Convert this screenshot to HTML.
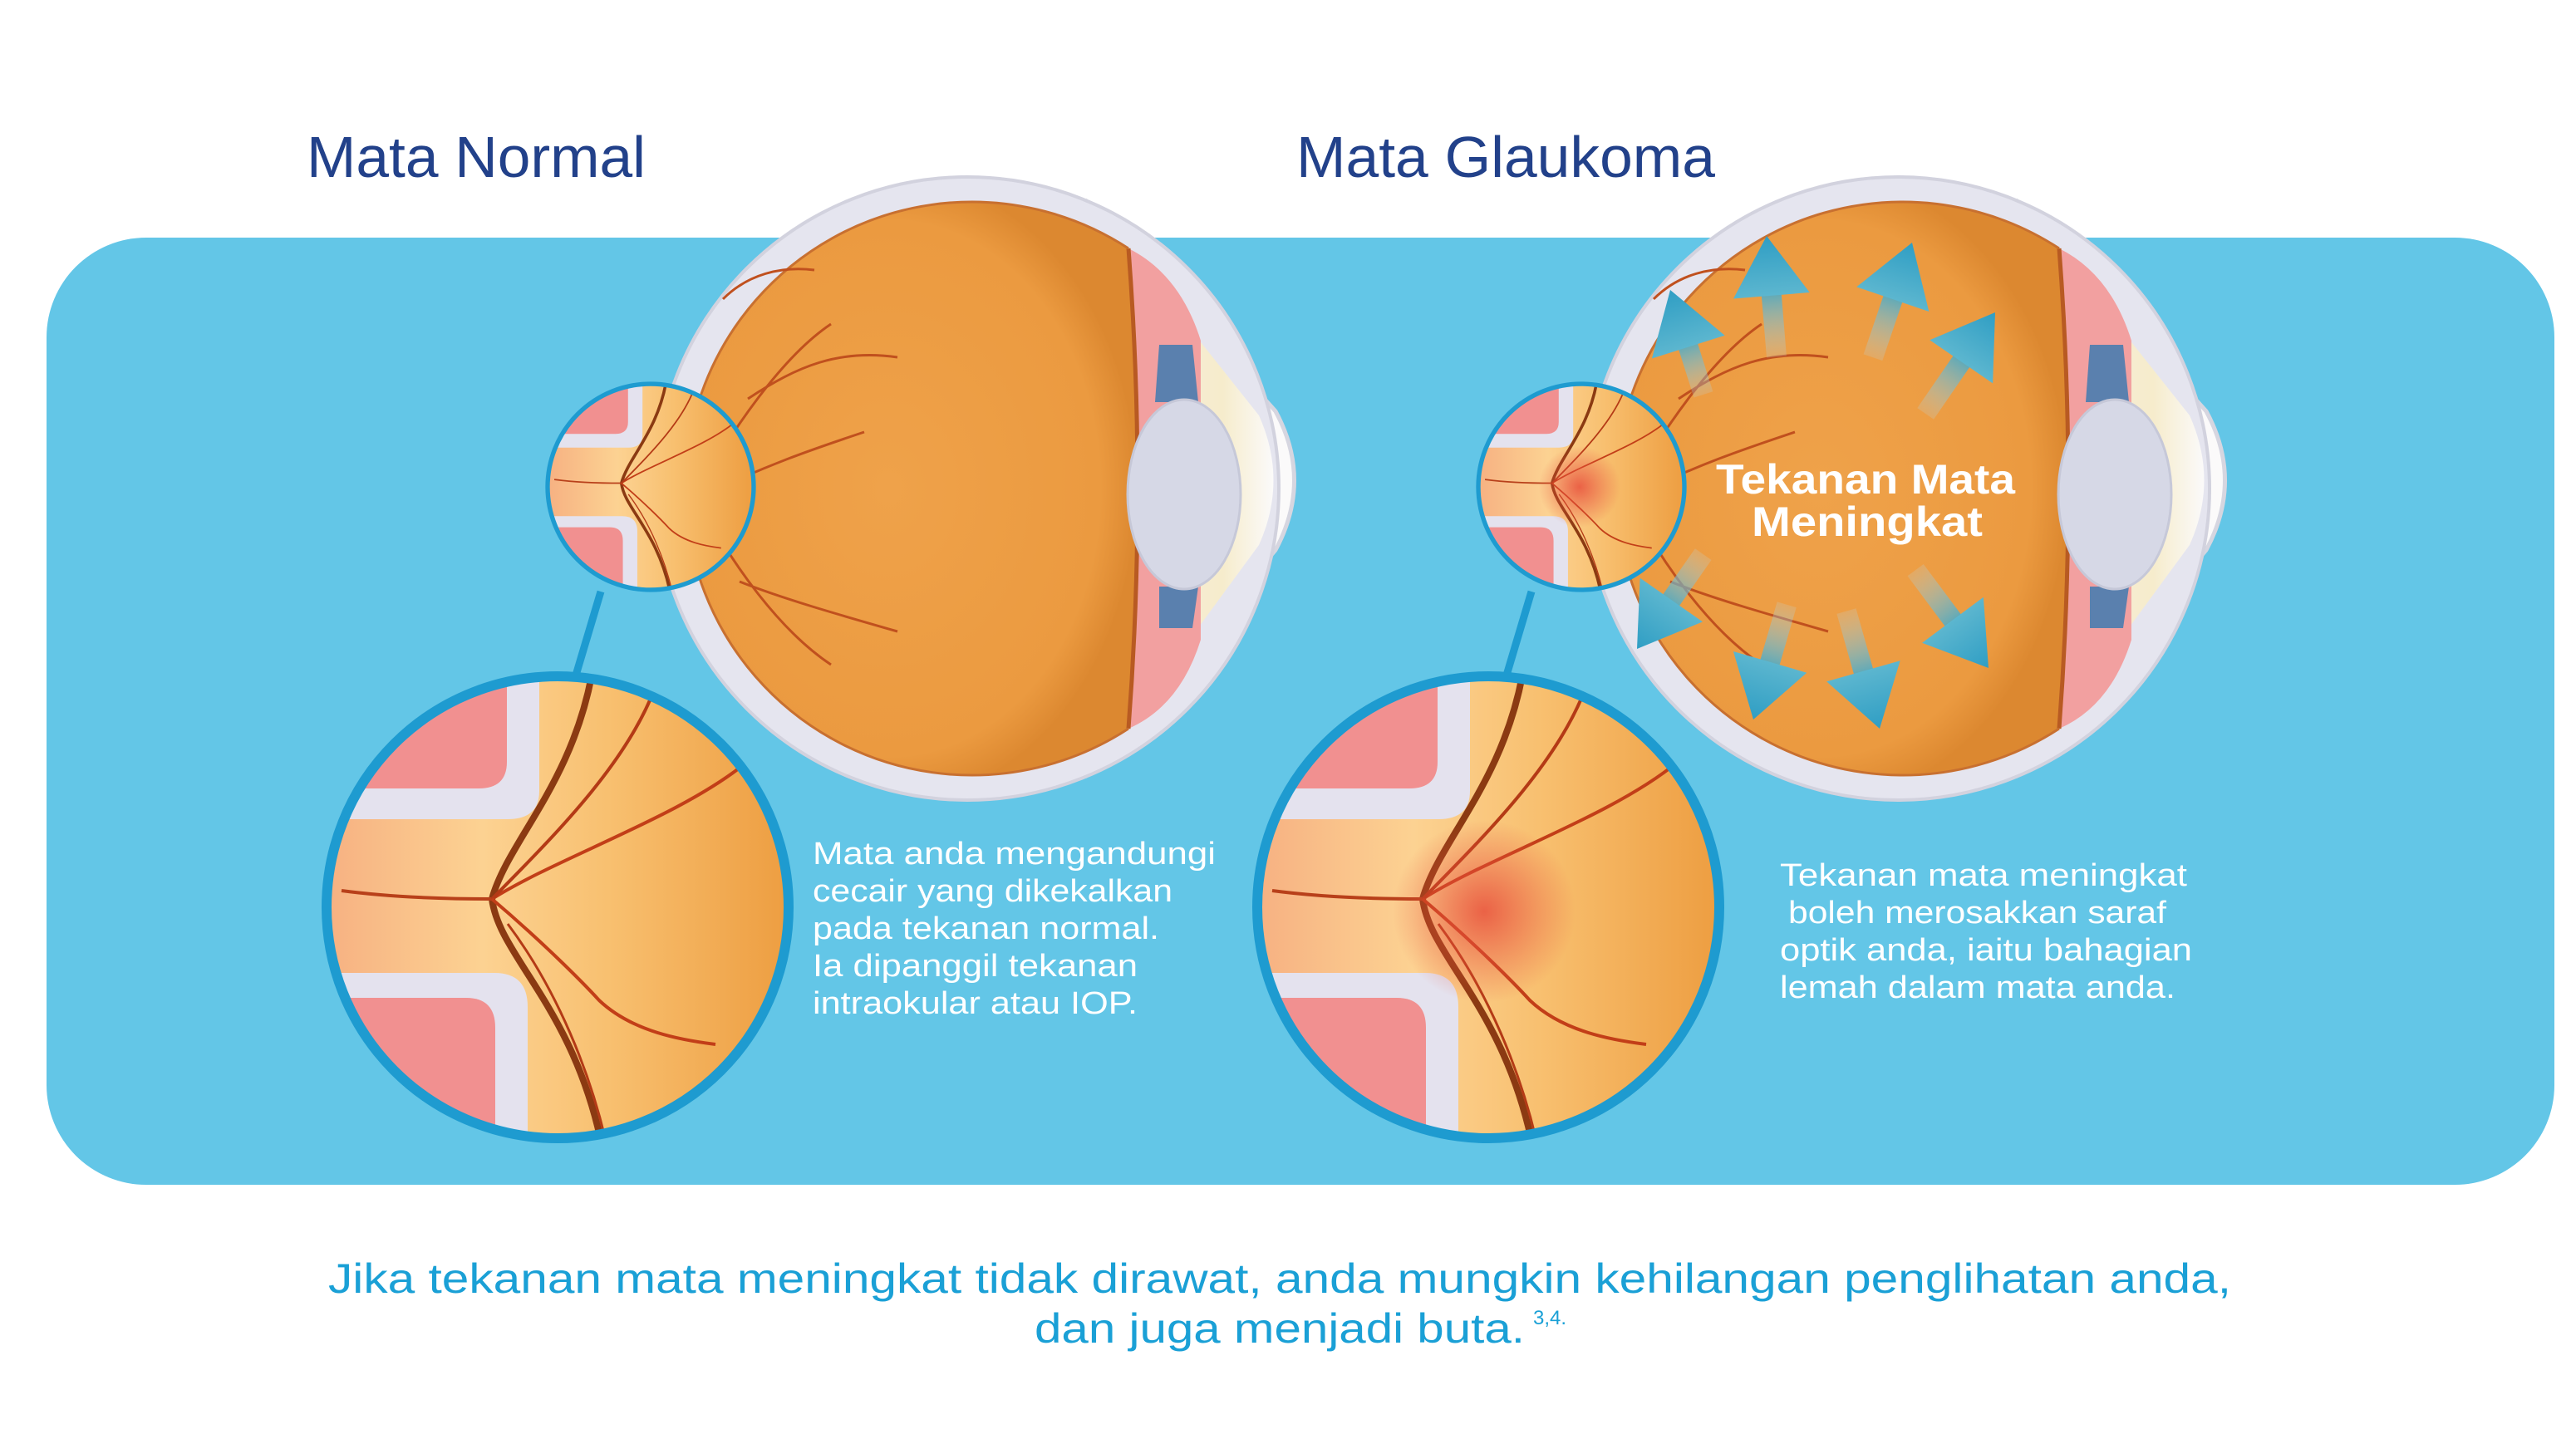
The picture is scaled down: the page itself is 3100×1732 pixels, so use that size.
<!DOCTYPE html>
<html><head><meta charset="utf-8"><style>html,body{margin:0;padding:0;background:#fff}svg{display:block}</style></head>
<body>
<svg width="3100" height="1732" viewBox="0 0 3100 1732" xmlns="http://www.w3.org/2000/svg" font-family="Liberation Sans, sans-serif">
<defs>
<radialGradient id="org" cx="0.45" cy="0.5" r="0.55">
<stop offset="0" stop-color="#efa24a"/><stop offset="0.85" stop-color="#eb9a40"/><stop offset="1" stop-color="#dc8830"/>
</radialGradient>
<linearGradient id="nerve" x1="0" y1="0" x2="1" y2="0">
<stop offset="0" stop-color="#f6ad80"/><stop offset="0.35" stop-color="#fcd292"/><stop offset="0.6" stop-color="#f8c070"/><stop offset="1" stop-color="#ec9a3c"/>
</linearGradient>
<radialGradient id="glow" cx="0.5" cy="0.5" r="0.5">
<stop offset="0" stop-color="#e8503c" stop-opacity="0.85"/><stop offset="1" stop-color="#e8503c" stop-opacity="0"/>
</radialGradient>
<linearGradient id="shaft" x1="0" y1="0" x2="0" y2="1">
<stop offset="0" stop-color="#3aa6c8" stop-opacity="0.95"/><stop offset="1" stop-color="#bcd8e0" stop-opacity="0.2"/>
</linearGradient>
<linearGradient id="head" x1="0" y1="0" x2="0" y2="1">
<stop offset="0" stop-color="#2f9ec4"/><stop offset="1" stop-color="#5cb6cf"/>
</linearGradient>
<linearGradient id="cor" x1="0" y1="0" x2="1" y2="0">
<stop offset="0" stop-color="#f4ecd8"/><stop offset="0.6" stop-color="#f6eccc"/><stop offset="1" stop-color="#fbfafa"/>
</linearGradient>
<clipPath id="bigc"><circle cx="0" cy="0" r="278"/></clipPath>
<g id="fundus">
<g clip-path="url(#bigc)">
<rect x="-300" y="-300" width="600" height="600" fill="url(#nerve)"/>
<path d="M-300,-300 H-22 V-140 Q-22,-106 -60,-106 H-300 Z" fill="#e4e2ee"/>
<path d="M-300,-300 H-61 V-175 Q-61,-143 -95,-143 H-300 Z" fill="#f19090"/>
<path d="M-300,300 H-36 V120 Q-36,79 -76,79 H-300 Z" fill="#e4e2ee"/>
<path d="M-300,300 H-75 V145 Q-75,109 -110,109 H-300 Z" fill="#f19090"/>
<path d="M43,-290 C20,-150 -60,-80 -79,-10 C-70,60 20,120 54,290" fill="none" stroke="#8b3a12" stroke-width="8"/>
<path d="M-260,-20 C-200,-12 -140,-10 -79,-10" fill="none" stroke="#b8401a" stroke-width="4"/>
<path d="M-79,-10 C0,-60 150,-110 228,-175" fill="none" stroke="#c23e18" stroke-width="4"/>
<path d="M-79,-10 C0,-90 90,-180 121,-275" fill="none" stroke="#b43a16" stroke-width="4"/>
<path d="M-79,-10 C-20,40 30,90 50,112 C90,150 150,160 190,165" fill="none" stroke="#c23e18" stroke-width="4"/>
<path d="M-60,20 C0,100 40,200 60,290" fill="none" stroke="#b43a16" stroke-width="3"/>
</g>
<circle cx="0" cy="0" r="278" fill="none" stroke="#1e9bd0" stroke-width="12"/>
</g>
<g id="eye">
<path d="M2430,245 L2655,495 Q2700,578 2655,662 L2430,930 Z" fill="#fbfafa" stroke="#d6d6e0" stroke-width="5"/>
<circle cx="2284" cy="588" r="375" fill="#e5e5ef" stroke="#d2d2de" stroke-width="4"/>
<path d="M2500,330 L2635,500 Q2670,578 2635,656 L2500,840 Z" fill="url(#cor)"/>
<path d="M2478,299 Q2540,330 2565,410 L2565,770 Q2540,850 2478,877 Q2500,588 2478,299 Z" fill="#f2a0a0"/>
<path d="M2478,299 A345,345 0 1 0 2478,877 Q2500,588 2478,299 Z" fill="url(#org)"/>
<path d="M2478,299 Q2500,588 2478,877" fill="none" stroke="#b85a22" stroke-width="5"/>
<path d="M2478,299 A345,345 0 1 0 2478,877" fill="none" stroke="#c87030" stroke-width="3"/>
<path d="M2515,415 L2555,415 L2562,484 L2510,484 Z" fill="#5a80ae"/>
<path d="M2515,706 L2562,706 L2555,756 L2515,756 Z" fill="#5a80ae"/>
<ellipse cx="2545" cy="595" rx="68" ry="114" fill="#d6d8e6" stroke="#c6c8d8" stroke-width="3"/>
<g fill="none" stroke="#c0501e" stroke-width="3">
<path d="M1960,590 C2000,520 2060,430 2120,390"/>
<path d="M2020,480 C2080,440 2130,420 2200,430"/>
<path d="M1960,600 C2040,560 2100,540 2160,520"/>
<path d="M1960,600 C2000,680 2060,760 2120,800"/>
<path d="M2010,700 C2060,720 2130,740 2200,760"/>
<path d="M1990,360 C2020,330 2060,320 2100,325"/>
</g>
</g>
</defs>

<rect x="0" y="0" width="3100" height="1732" fill="#fff"/>
<rect x="56" y="286" width="3018" height="1140" rx="120" fill="#63c6e7"/>

<text x="369" y="213" font-size="70" fill="#22418a" textLength="408" lengthAdjust="spacingAndGlyphs">Mata Normal</text>
<text x="1560" y="213" font-size="70" fill="#22418a" textLength="504" lengthAdjust="spacingAndGlyphs">Mata Glaukoma</text>

<g transform="translate(-1120,0)">
<use href="#eye"/>
<line x1="1843" y1="712" x2="1812" y2="816" stroke="#1e9bd0" stroke-width="9"/>
<g transform="translate(1903,586) scale(0.446)"><use href="#fundus"/></g>
<g transform="translate(1791,1092)"><use href="#fundus"/></g>
</g>

<use href="#eye"/>
<line x1="1843" y1="712" x2="1812" y2="816" stroke="#1e9bd0" stroke-width="9"/>
<g transform="translate(1903,586) scale(0.446)"><use href="#fundus"/><circle cx="-5" cy="0" r="110" fill="url(#glow)"/></g>
<g transform="translate(1791,1092)"><use href="#fundus"/><circle cx="-5" cy="5" r="110" fill="url(#glow)"/></g>

<g>
<g transform="translate(2010,349) rotate(-17.6)"><rect x="-12" y="60" width="24" height="72" fill="url(#shaft)"/><path d="M0,0 L46,72 L-46,72 Z" fill="url(#head)"/></g>
<g transform="translate(2126,284) rotate(-4.7)"><rect x="-12" y="60" width="24" height="86" fill="url(#shaft)"/><path d="M0,0 L46,72 L-46,72 Z" fill="url(#head)"/></g>
<g transform="translate(2301,292) rotate(18.8)"><rect x="-12" y="60" width="24" height="86" fill="url(#shaft)"/><path d="M0,0 L46,72 L-46,72 Z" fill="url(#head)"/></g>
<g transform="translate(2401,376) rotate(34.5)"><rect x="-12" y="60" width="24" height="88" fill="url(#shaft)"/><path d="M0,0 L46,72 L-46,72 Z" fill="url(#head)"/></g>
<g transform="translate(1970,781) rotate(-145)"><rect x="-12" y="60" width="24" height="79" fill="url(#shaft)"/><path d="M0,0 L46,72 L-46,72 Z" fill="url(#head)"/></g>
<g transform="translate(2110,866) rotate(-163.8)"><rect x="-12" y="60" width="24" height="84" fill="url(#shaft)"/><path d="M0,0 L46,72 L-46,72 Z" fill="url(#head)"/></g>
<g transform="translate(2262,877) rotate(164.2)"><rect x="-12" y="60" width="24" height="87" fill="url(#shaft)"/><path d="M0,0 L46,72 L-46,72 Z" fill="url(#head)"/></g>
<g transform="translate(2393,804) rotate(143.3)"><rect x="-12" y="60" width="24" height="87" fill="url(#shaft)"/><path d="M0,0 L46,72 L-46,72 Z" fill="url(#head)"/></g>
</g>

<text font-size="50" font-weight="bold" fill="#fff">
<tspan x="2065" y="594" textLength="360" lengthAdjust="spacingAndGlyphs">Tekanan Mata</tspan>
<tspan x="2108" y="645" textLength="278" lengthAdjust="spacingAndGlyphs">Meningkat</tspan>
</text>

<g font-size="38" fill="#fff">
<text x="978" y="1040" textLength="485" lengthAdjust="spacingAndGlyphs">Mata anda mengandungi</text>
<text x="978" y="1085" textLength="433" lengthAdjust="spacingAndGlyphs">cecair yang dikekalkan</text>
<text x="978" y="1130" textLength="417" lengthAdjust="spacingAndGlyphs">pada tekanan normal.</text>
<text x="978" y="1175" textLength="391" lengthAdjust="spacingAndGlyphs">Ia dipanggil tekanan</text>
<text x="978" y="1220" textLength="391" lengthAdjust="spacingAndGlyphs">intraokular atau IOP.</text>

<text x="2142" y="1066" textLength="490" lengthAdjust="spacingAndGlyphs">Tekanan mata meningkat</text>
<text x="2152" y="1111" textLength="455" lengthAdjust="spacingAndGlyphs">boleh merosakkan saraf</text>
<text x="2142" y="1156" textLength="496" lengthAdjust="spacingAndGlyphs">optik anda, iaitu bahagian</text>
<text x="2142" y="1201" textLength="476" lengthAdjust="spacingAndGlyphs">lemah dalam mata anda.</text>
</g>

<g fill="#1aa0d6">
<text x="395" y="1556" font-size="50" textLength="2290" lengthAdjust="spacingAndGlyphs">Jika tekanan mata meningkat tidak dirawat, anda mungkin kehilangan penglihatan anda,</text>
<text x="1245" y="1616" font-size="50" textLength="590" lengthAdjust="spacingAndGlyphs">dan juga menjadi buta.</text>
<text x="1845" y="1594" font-size="24">3,4.</text>
</g>
</svg>
</body></html>
